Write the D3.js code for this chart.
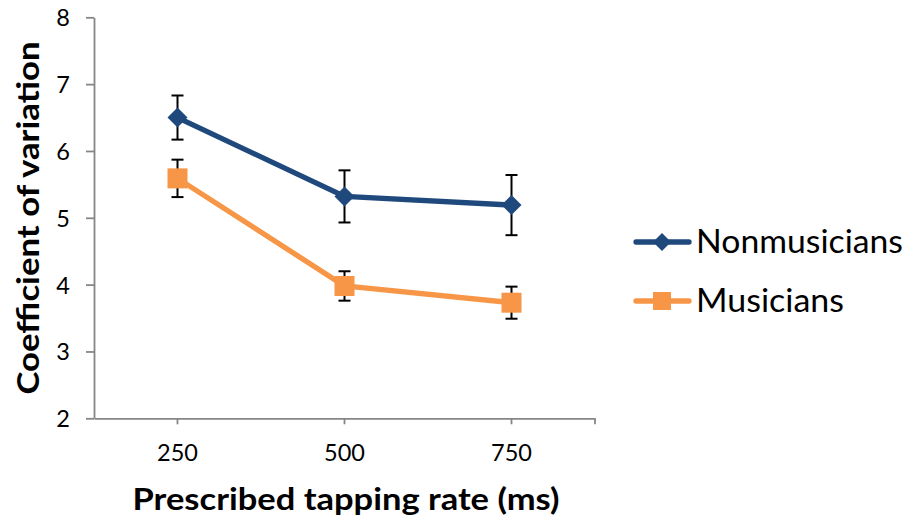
<!DOCTYPE html>
<html><head><meta charset="utf-8">
<script src="https://cdn.jsdelivr.net/npm/d3@7"></script>
<style>
html,body{margin:0;padding:0;background:#fff;}
text{font-family:Lato,"Open Sans",sans-serif;fill:#000;}
</style></head>
<body>
<svg id="chart" width="910" height="525"></svg>
<script>
const categories = ["250","500","750"];
const nonmusicians = [6.50, 5.32, 5.19];
const nonmusiciansErr = [0.33, 0.39, 0.45];
const musicians = [5.59, 3.98, 3.73];
const musiciansErr = [0.28, 0.22, 0.24];
const yTicks = [2,3,4,5,6,7,8];
const seriesNames = ["Nonmusicians","Musicians"];
const xTitle = "Prescribed tapping rate (ms)";
const yTitle = "Coefficient of variation";

const margin = {left:94, top:17.3};
const W = 501, H = 401;
const svg = d3.select("#chart");
const g = svg.append("g").attr("transform",`translate(${margin.left},${margin.top})`);

const x = d3.scaleBand().domain(categories).range([0,W]).padding(0);
const y = d3.scaleLinear().domain([2,8]).range([H,0]);
const cx = d => x(d)+x.bandwidth()/2;

const axisColor = "#868686";
// Y axis
const yAxis = g.append("g").call(d3.axisLeft(y).tickValues(yTicks).tickSize(8).tickSizeOuter(0).tickFormat(d3.format("d")));
yAxis.select(".domain").attr("stroke",axisColor).attr("stroke-width",1.8);
yAxis.selectAll(".tick line").attr("stroke",axisColor).attr("stroke-width",1.8);
yAxis.selectAll(".tick text").attr("x",-24).attr("dy","0.36em").style("font-size","23.5px").style("font-family","Lato");

// X axis
const xAxis = g.append("g").attr("transform",`translate(0,${H})`)
  .call(d3.axisBottom(x).tickSize(6).tickSizeOuter(0));
xAxis.select(".domain").attr("stroke",axisColor).attr("stroke-width",1.8);
xAxis.selectAll(".tick line").attr("stroke",axisColor).attr("stroke-width",1.8);
xAxis.selectAll(".tick text").attr("y",43).attr("dy",0).style("font-size","23.5px").style("font-family","Lato");
xAxis.append("line").attr("x1",W).attr("x2",W).attr("y1",0).attr("y2",6).attr("stroke",axisColor).attr("stroke-width",1.8);

const series = [
  {name:seriesNames[0], vals:nonmusicians, err:nonmusiciansErr, color:"#1F497D", marker:"diamond"},
  {name:seriesNames[1], vals:musicians, err:musiciansErr, color:"#F79646", marker:"square"}
];

const line = d3.line().x((d,i)=>cx(categories[i])).y(d=>y(d));
series.forEach(s=>{
  g.append("path").datum(s.vals).attr("d",line).attr("fill","none")
   .attr("stroke",s.color).attr("stroke-width",5.3).attr("stroke-linejoin","round");
});
// error bars
series.forEach(s=>{
  const eg = g.append("g");
  s.vals.forEach((v,i)=>{
    const xc = cx(categories[i]);
    const top = y(v+s.err[i]), bot = y(v-s.err[i]);
    eg.append("line").attr("x1",xc).attr("x2",xc).attr("y1",top).attr("y2",bot).attr("stroke","#000").attr("stroke-width",2);
    eg.append("line").attr("x1",xc-6).attr("x2",xc+6).attr("y1",top).attr("y2",top).attr("stroke","#000").attr("stroke-width",2);
    eg.append("line").attr("x1",xc-6).attr("x2",xc+6).attr("y1",bot).attr("y2",bot).attr("stroke","#000").attr("stroke-width",2);
  });
});
function drawMarker(sel, type, xc, yc, size, color){
  if(type==="diamond"){
    const h=size/2;
    sel.append("path").attr("d",`M${xc},${yc-h}L${xc+h},${yc}L${xc},${yc+h}L${xc-h},${yc}Z`).attr("fill",color);
  } else {
    sel.append("rect").attr("x",xc-size/2).attr("y",yc-size/2).attr("width",size).attr("height",size).attr("fill",color);
  }
}
series.forEach(s=>{
  s.vals.forEach((v,i)=>{
    drawMarker(g, s.marker, cx(categories[i]), y(v), 20, s.color);
  });
});

// Axis titles
svg.append("text").attr("x",346).attr("y",510).attr("text-anchor","middle")
  .style("font-size","31px").style("font-weight","bold").attr("textLength",427).attr("lengthAdjust","spacingAndGlyphs").text(xTitle);
svg.append("text").attr("transform","translate(39,218) rotate(-90)").attr("text-anchor","middle")
  .style("font-size","31px").style("font-weight","bold").attr("textLength",353).attr("lengthAdjust","spacingAndGlyphs").text(yTitle);

// Legend
const legY = [242, 301];
const legW = [207, 148];
series.forEach((s,i)=>{
  const lg = svg.append("g");
  lg.append("line").attr("x1",636).attr("x2",689).attr("y1",legY[i]).attr("y2",legY[i])
    .attr("stroke",s.color).attr("stroke-width",5.3).attr("stroke-linecap","round");
  drawMarker(lg, s.marker, 662, legY[i], 18, s.color);
  lg.append("text").attr("x",696).attr("y",legY[i]+10.7).style("font-size","32px")
    .attr("textLength",legW[i]).attr("lengthAdjust","spacingAndGlyphs")
    .text(s.name);
});
</script>
</body></html>
